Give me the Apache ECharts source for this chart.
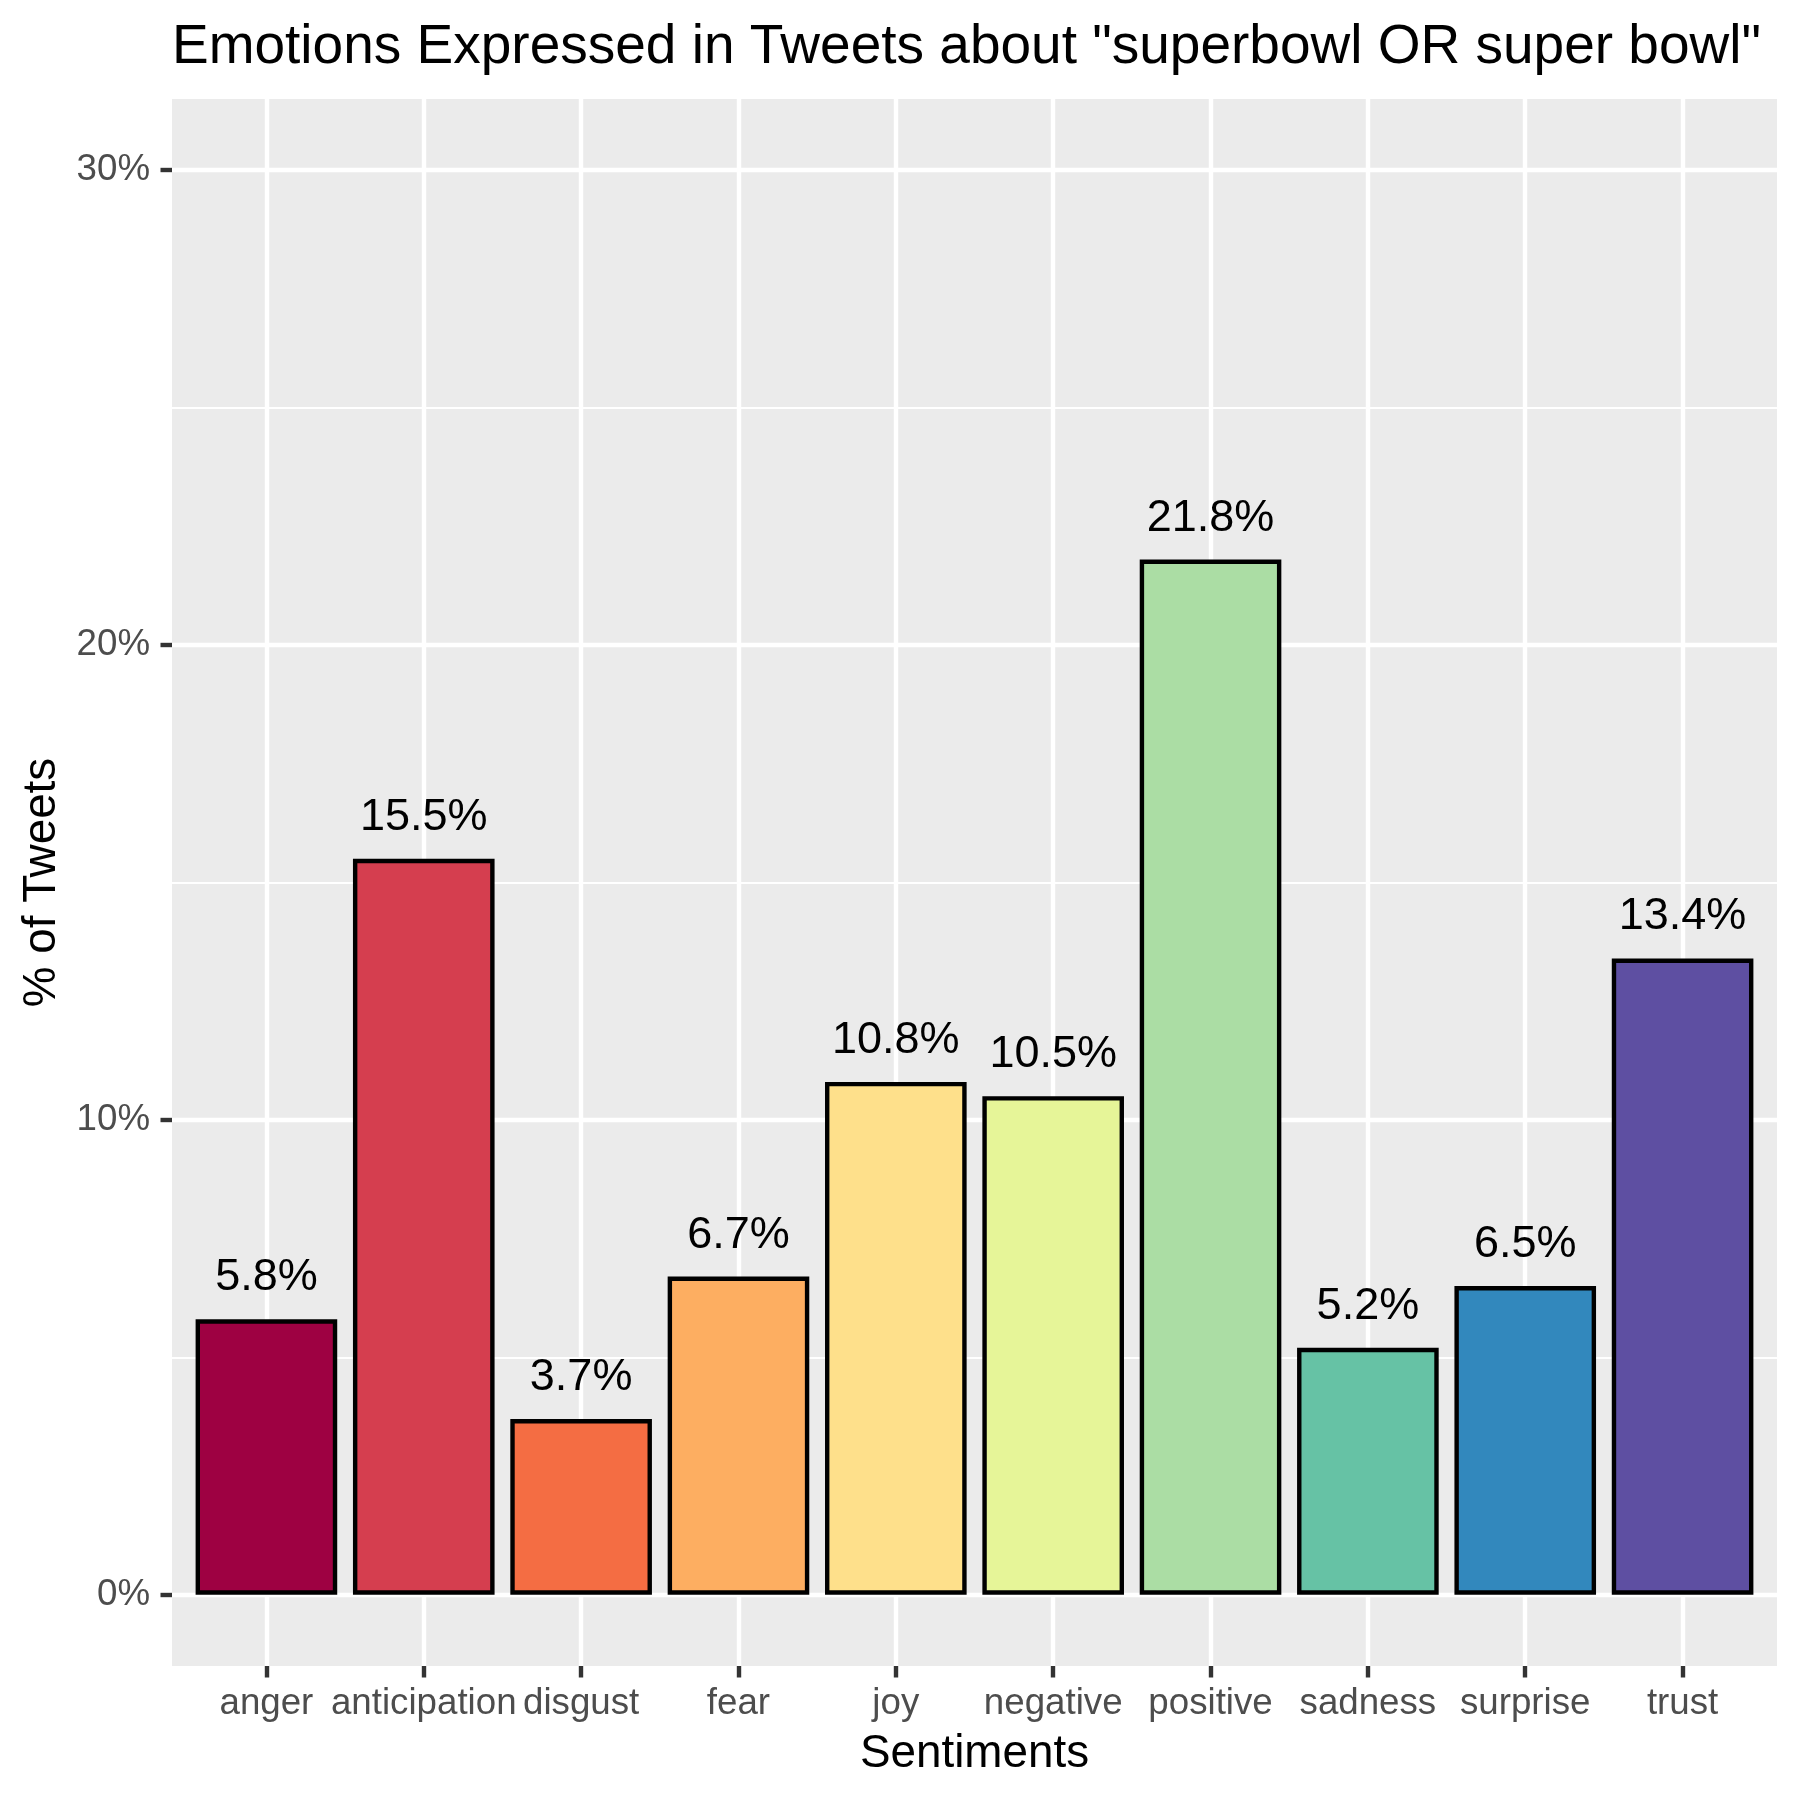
<!DOCTYPE html>
<html>
<head>
<meta charset="utf-8">
<script src="https://cdn.jsdelivr.net/npm/echarts@6/dist/echarts.min.js"></script>
<style>
  html, body { margin: 0; padding: 0; background: #ffffff; }
  #chart { width: 1800px; height: 1800px; }
</style>
</head>
<body>
<div id="chart"></div>
<script>
// ---- data ----
const categories = ["anger", "anticipation", "disgust", "fear", "joy", "negative", "positive", "sadness", "surprise", "trust"];
const percents = [5.8, 15.5, 3.7, 6.7, 10.8, 10.5, 21.8, 5.2, 6.5, 13.4];
const barColors = ["#9E0142", "#D53E4F", "#F46D43", "#FDAE61", "#FEE08B", "#E6F598", "#ABDDA4", "#66C2A5", "#3288BD", "#5E4FA2"];
const yMajorTicks = [0, 10, 20, 30];
const yMinorTicks = [5, 15, 25];
const titleText = 'Emotions Expressed in Tweets about "superbowl OR super bowl"';
const xTitle = "Sentiments";
const yTitle = "% of Tweets";

const FONT = "'Liberation Sans', Arial, Helvetica, sans-serif";
const positions = categories.map((c, i) => i + 1);

// layout constants
const GRID_LEFT = 172, GRID_RIGHT = 23, GRID_TOP = 99, GRID_BOTTOM = 134;
const X_MIN = 0.4, X_MAX = 10.6;
const unitPx = (1800 - GRID_LEFT - GRID_RIGHT) / (X_MAX - X_MIN);

const chart = echarts.init(document.getElementById('chart'), null, { renderer: 'canvas' });

const seriesData = percents.map((v, i) => ({
  value: [positions[i], v],
  itemStyle: { color: barColors[i] }
}));

const option = {
  backgroundColor: '#ffffff',
  animation: false,
  title: {
    text: titleText,
    left: GRID_LEFT,
    top: 20,
    padding: 0,
    textStyle: { fontFamily: FONT, fontSize: 55, fontWeight: 'normal', color: '#000000' }
  },
  grid: {
    left: GRID_LEFT, right: GRID_RIGHT, top: GRID_TOP, bottom: GRID_BOTTOM,
    show: true, backgroundColor: '#EBEBEB', borderWidth: 0,
    containLabel: false
  },
  xAxis: {
    type: 'value',
    min: X_MIN, max: X_MAX,
    name: xTitle,
    nameLocation: 'middle',
    nameGap: 65,
    nameTextStyle: { fontFamily: FONT, fontSize: 45.8, color: '#000000' },
    axisLine: { show: false, onZero: false },
    axisTick: { show: true, customValues: positions, length: 11.5, lineStyle: { color: '#333333', width: 4.4 } },
    axisLabel: {
      show: true, customValues: positions, margin: 19,
      fontFamily: FONT, fontSize: 36.7, color: '#4D4D4D',
      formatter: v => categories[Math.round(v) - 1] || ''
    },
    splitLine: { show: true, lineStyle: { color: '#FFFFFF', width: 4.4 } }
  },
  yAxis: [
    {
      type: 'value',
      min: -1.5, max: 31.5,
      name: yTitle,
      nameLocation: 'middle',
      nameRotate: 90,
      nameGap: 106,
      nameTextStyle: { fontFamily: FONT, fontSize: 45.8, color: '#000000' },
      axisLine: { show: false, onZero: false },
      axisTick: { show: true, customValues: yMajorTicks, length: 11.5, lineStyle: { color: '#333333', width: 4.4 } },
      axisLabel: {
        show: true, customValues: yMajorTicks, margin: 22,
        padding: [5, 0, 0, 0],
        fontFamily: FONT, fontSize: 36.7, color: '#4D4D4D',
        formatter: v => v + '%'
      },
      splitLine: { show: true, lineStyle: { color: '#FFFFFF', width: 4.4 } },
      z: 2
    },
    {
      type: 'value',
      min: -1.5, max: 31.5,
      position: 'left',
      axisLine: { show: false, onZero: false },
      axisTick: { show: false, customValues: yMinorTicks },
      axisLabel: { show: false, customValues: yMinorTicks },
      splitLine: { show: true, lineStyle: { color: '#FFFFFF', width: 2.2 } },
      z: 1
    }
  ],
  series: [{
    type: 'bar',
    xAxisIndex: 0,
    yAxisIndex: 0,
    barWidth: unitPx * 0.9,
    data: seriesData,
    itemStyle: { borderColor: '#000000', borderWidth: 4.4 },
    label: {
      show: true,
      position: 'top',
      distance: 19,
      fontFamily: FONT,
      fontSize: 45,
      color: '#000000',
      formatter: p => p.value[1].toFixed(1) + '%'
    }
  }]
};

chart.setOption(option);
</script>
</body>
</html>
